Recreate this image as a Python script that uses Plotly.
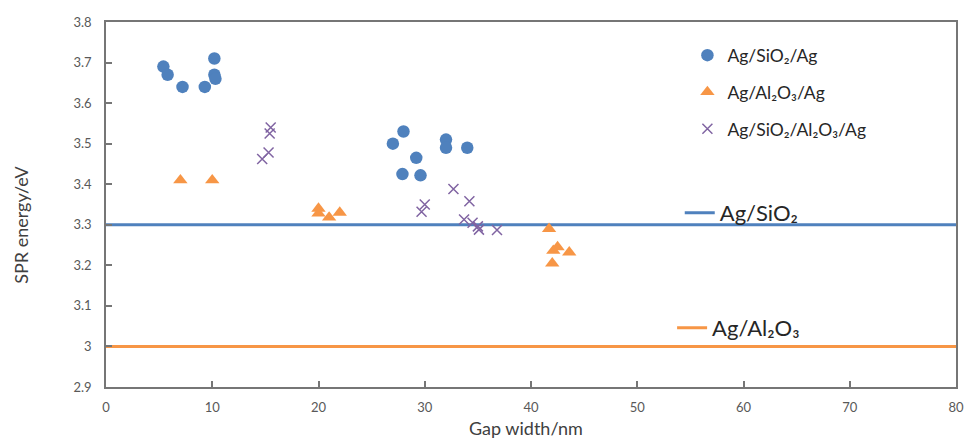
import plotly.graph_objects as go

# ---- data ----
sio2_x = [5.4, 5.8, 7.2, 9.3, 10.2, 10.2, 10.3, 27.0, 28.0, 29.2, 27.9, 29.6, 32.0, 32.0, 34.0]
sio2_y = [3.69, 3.67, 3.64, 3.64, 3.71, 3.67, 3.66, 3.50, 3.53, 3.465, 3.425, 3.422, 3.51, 3.49, 3.49]

al2o3_x = [7.0, 10.0, 20.0, 20.0, 21.0, 22.0, 41.7, 42.5, 42.1, 43.6, 42.0]
al2o3_y = [3.41, 3.41, 3.34, 3.328, 3.318, 3.33, 3.29, 3.245, 3.236, 3.232, 3.205]

mix_x = [15.5, 15.4, 15.3, 14.7, 32.7, 34.2, 30.0, 29.7, 33.7, 34.5, 35.0, 35.1, 36.8]
mix_y = [3.54, 3.525, 3.478, 3.462, 3.388, 3.358, 3.35, 3.332, 3.313, 3.305, 3.296, 3.288, 3.287]

ref_x = [0, 80]
ref_sio2_y = [3.3, 3.3]
ref_al2o3_y = [3.0, 3.0]

names = ["Ag/SiO₂/Ag", "Ag/Al₂O₃/Ag", "Ag/SiO₂/Al₂O₃/Ag", "Ag/SiO₂", "Ag/Al₂O₃"]
x_title = "Gap width/nm"
y_title = "SPR energy/eV"

x_ticks = [0, 10, 20, 30, 40, 50, 60, 70, 80]
y_ticks = [2.9, 3.0, 3.1, 3.2, 3.3, 3.4, 3.5, 3.6, 3.7, 3.8]
y_tick_text = ["2.9", "3", "3.1", "3.2", "3.3", "3.4", "3.5", "3.6", "3.7", "3.8"]

BLUE = "#4F81BD"
ORANGE = "#F79646"
PURPLE = "#8064A2"
FONT = "Lato"
TXT = "#262626"

fig = go.Figure()

fig.add_trace(go.Scatter(
    x=ref_x, y=ref_sio2_y, mode="lines", name=names[3],
    line=dict(color=BLUE, width=3), legend="legend2"))
fig.add_trace(go.Scatter(
    x=ref_x, y=ref_al2o3_y, mode="lines", name=names[4],
    line=dict(color=ORANGE, width=3), legend="legend3"))

fig.add_trace(go.Scatter(
    x=sio2_x, y=sio2_y, mode="markers", name=names[0], legendgroup="a",
    marker=dict(symbol="circle", size=12.5, color=BLUE)))
fig.add_trace(go.Scatter(
    x=al2o3_x, y=al2o3_y, mode="markers", name=names[1], legendgroup="b",
    marker=dict(symbol="triangle-up", size=12.5, color=ORANGE)))
fig.add_trace(go.Scatter(
    x=mix_x, y=mix_y, mode="markers", name=names[2], legendgroup="c",
    marker=dict(symbol="x-thin", size=10, color=PURPLE,
                line=dict(color=PURPLE, width=1.5))))

axis_common = dict(
    showline=True, mirror=True, linecolor="#767676", linewidth=1.5,
    ticks="inside", ticklen=6, tickcolor="#767676", tickwidth=1.5,
    showgrid=False, zeroline=False,
    tickfont=dict(family=FONT, size=13, color="#595959"),
)

fig.update_layout(
    width=973, height=440,
    margin=dict(l=106, r=9, t=22, b=53),
    paper_bgcolor="white", plot_bgcolor="white",
    font=dict(family=FONT, color="#404040"),
    xaxis=dict(range=[0, 80], tickvals=x_ticks, ticklabelstandoff=8,
               **axis_common),
    yaxis=dict(range=[2.9, 3.8], tickvals=y_ticks, ticktext=y_tick_text,
               ticklabelstandoff=10,
               **axis_common),
    legend=dict(x=0.684, y=0.958, xanchor="left", yanchor="top",
                font=dict(family=FONT, size=17.5, color=TXT),
                bgcolor="rgba(0,0,0,0)", traceorder="grouped", tracegroupgap=11),
    legend2=dict(x=0.675, y=0.477, xanchor="left", yanchor="middle",
                 font=dict(family=FONT, size=22, color=TXT),
                 bgcolor="rgba(0,0,0,0)"),
    legend3=dict(x=0.666, y=0.162, xanchor="left", yanchor="middle",
                 font=dict(family=FONT, size=22, color=TXT),
                 bgcolor="rgba(0,0,0,0)"),
    annotations=[
        dict(text=x_title, xref="paper", yref="paper", x=0.494, y=-0.112,
             xanchor="center", yanchor="middle", showarrow=False,
             font=dict(family=FONT, size=18, color="#404040")),
        dict(text=y_title, xref="paper", yref="paper", x=-0.1002, y=0.444,
             xanchor="center", yanchor="middle", showarrow=False, textangle=-90,
             font=dict(family=FONT, size=18, color="#404040")),
    ],
)

fig.write_html("out.html")
